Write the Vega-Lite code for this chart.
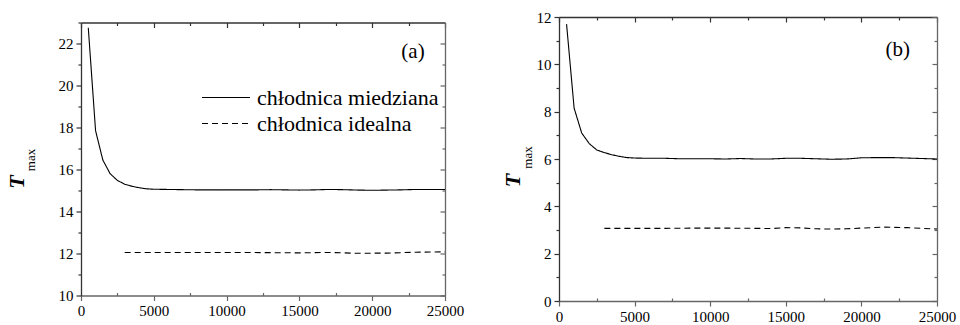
{
  "$schema": "https://vega.github.io/schema/vega-lite/v6.json",
  "background": "white",
  "padding": {"left": 5, "top": 10, "right": 5, "bottom": 3},
  "spacing": 114,
  "bounds": "flush",
  "center": true,
  "config": {
    "view": {"stroke": null},
    "font": "Times New Roman, Liberation Serif, serif",
    "text": {"font": "Times New Roman, Liberation Serif, serif"},
    "legend": {"labelFont": "Times New Roman, Liberation Serif, serif"},
    "axis": {
      "grid": false,
      "labelFont": "Times New Roman, Liberation Serif, serif",
      "labelFontSize": 15,
      "labelColor": "black",
      "labelOverlap": false,
      "labelFlush": false,
      "labelPadding": 3,
      "domainColor": "#333",
      "tickColor": "#333",
      "domainWidth": 1.3,
      "tickWidth": 1.2,
      "titleFont": "Times New Roman, Liberation Serif, serif",
      "titleColor": "black",
      "format": "d"
    }
  },
  "resolve": {"scale": {"strokeDash": "independent"}, "legend": {"strokeDash": "independent"}},
  "datasets": {
    "a": [
      {"x": 500, "y": 22.75, "series": "chłodnica miedziana"},
      {"x": 1000, "y": 17.85, "series": "chłodnica miedziana"},
      {"x": 1500, "y": 16.45, "series": "chłodnica miedziana"},
      {"x": 2000, "y": 15.8, "series": "chłodnica miedziana"},
      {"x": 2500, "y": 15.48, "series": "chłodnica miedziana"},
      {"x": 3000, "y": 15.3, "series": "chłodnica miedziana"},
      {"x": 3500, "y": 15.2, "series": "chłodnica miedziana"},
      {"x": 4000, "y": 15.13, "series": "chłodnica miedziana"},
      {"x": 4500, "y": 15.08, "series": "chłodnica miedziana"},
      {"x": 5000, "y": 15.06, "series": "chłodnica miedziana"},
      {"x": 6000, "y": 15.05, "series": "chłodnica miedziana"},
      {"x": 7000, "y": 15.04, "series": "chłodnica miedziana"},
      {"x": 8000, "y": 15.03, "series": "chłodnica miedziana"},
      {"x": 9000, "y": 15.03, "series": "chłodnica miedziana"},
      {"x": 10000, "y": 15.03, "series": "chłodnica miedziana"},
      {"x": 11000, "y": 15.03, "series": "chłodnica miedziana"},
      {"x": 12000, "y": 15.03, "series": "chłodnica miedziana"},
      {"x": 13000, "y": 15.04, "series": "chłodnica miedziana"},
      {"x": 14000, "y": 15.03, "series": "chłodnica miedziana"},
      {"x": 15000, "y": 15.02, "series": "chłodnica miedziana"},
      {"x": 16000, "y": 15.03, "series": "chłodnica miedziana"},
      {"x": 17000, "y": 15.05, "series": "chłodnica miedziana"},
      {"x": 18000, "y": 15.04, "series": "chłodnica miedziana"},
      {"x": 19000, "y": 15.02, "series": "chłodnica miedziana"},
      {"x": 20000, "y": 15.01, "series": "chłodnica miedziana"},
      {"x": 21000, "y": 15.02, "series": "chłodnica miedziana"},
      {"x": 22000, "y": 15.03, "series": "chłodnica miedziana"},
      {"x": 23000, "y": 15.05, "series": "chłodnica miedziana"},
      {"x": 24000, "y": 15.05, "series": "chłodnica miedziana"},
      {"x": 25000, "y": 15.05, "series": "chłodnica miedziana"},
      {"x": 3000, "y": 12.05, "series": "chłodnica idealna"},
      {"x": 5000, "y": 12.05, "series": "chłodnica idealna"},
      {"x": 7000, "y": 12.05, "series": "chłodnica idealna"},
      {"x": 9000, "y": 12.05, "series": "chłodnica idealna"},
      {"x": 11000, "y": 12.05, "series": "chłodnica idealna"},
      {"x": 13000, "y": 12.04, "series": "chłodnica idealna"},
      {"x": 15000, "y": 12.03, "series": "chłodnica idealna"},
      {"x": 17000, "y": 12.05, "series": "chłodnica idealna"},
      {"x": 19000, "y": 12.01, "series": "chłodnica idealna"},
      {"x": 21000, "y": 12.02, "series": "chłodnica idealna"},
      {"x": 23000, "y": 12.06, "series": "chłodnica idealna"},
      {"x": 25000, "y": 12.08, "series": "chłodnica idealna"}
    ],
    "b": [
      {"x": 500, "y": 11.7, "series": "chłodnica miedziana"},
      {"x": 1000, "y": 8.15, "series": "chłodnica miedziana"},
      {"x": 1500, "y": 7.1, "series": "chłodnica miedziana"},
      {"x": 2000, "y": 6.65, "series": "chłodnica miedziana"},
      {"x": 2500, "y": 6.38, "series": "chłodnica miedziana"},
      {"x": 3000, "y": 6.27, "series": "chłodnica miedziana"},
      {"x": 3500, "y": 6.18, "series": "chłodnica miedziana"},
      {"x": 4000, "y": 6.11, "series": "chłodnica miedziana"},
      {"x": 4500, "y": 6.06, "series": "chłodnica miedziana"},
      {"x": 5000, "y": 6.04, "series": "chłodnica miedziana"},
      {"x": 6000, "y": 6.03, "series": "chłodnica miedziana"},
      {"x": 7000, "y": 6.03, "series": "chłodnica miedziana"},
      {"x": 8000, "y": 6.01, "series": "chłodnica miedziana"},
      {"x": 9000, "y": 6.01, "series": "chłodnica miedziana"},
      {"x": 10000, "y": 6.01, "series": "chłodnica miedziana"},
      {"x": 11000, "y": 6.0, "series": "chłodnica miedziana"},
      {"x": 12000, "y": 6.02, "series": "chłodnica miedziana"},
      {"x": 13000, "y": 6.0, "series": "chłodnica miedziana"},
      {"x": 14000, "y": 6.0, "series": "chłodnica miedziana"},
      {"x": 15000, "y": 6.03, "series": "chłodnica miedziana"},
      {"x": 16000, "y": 6.03, "series": "chłodnica miedziana"},
      {"x": 17000, "y": 6.01, "series": "chłodnica miedziana"},
      {"x": 18000, "y": 5.99, "series": "chłodnica miedziana"},
      {"x": 19000, "y": 6.0, "series": "chłodnica miedziana"},
      {"x": 20000, "y": 6.05, "series": "chłodnica miedziana"},
      {"x": 21000, "y": 6.06, "series": "chłodnica miedziana"},
      {"x": 22000, "y": 6.06, "series": "chłodnica miedziana"},
      {"x": 23000, "y": 6.04, "series": "chłodnica miedziana"},
      {"x": 24000, "y": 6.02, "series": "chłodnica miedziana"},
      {"x": 25000, "y": 6.0, "series": "chłodnica miedziana"},
      {"x": 3000, "y": 3.07, "series": "chłodnica idealna"},
      {"x": 5000, "y": 3.07, "series": "chłodnica idealna"},
      {"x": 7000, "y": 3.07, "series": "chłodnica idealna"},
      {"x": 9000, "y": 3.08, "series": "chłodnica idealna"},
      {"x": 11000, "y": 3.08, "series": "chłodnica idealna"},
      {"x": 13000, "y": 3.07, "series": "chłodnica idealna"},
      {"x": 14000, "y": 3.06, "series": "chłodnica idealna"},
      {"x": 15000, "y": 3.1, "series": "chłodnica idealna"},
      {"x": 16000, "y": 3.09, "series": "chłodnica idealna"},
      {"x": 17000, "y": 3.05, "series": "chłodnica idealna"},
      {"x": 18000, "y": 3.04, "series": "chłodnica idealna"},
      {"x": 19000, "y": 3.05, "series": "chłodnica idealna"},
      {"x": 20000, "y": 3.08, "series": "chłodnica idealna"},
      {"x": 21500, "y": 3.12, "series": "chłodnica idealna"},
      {"x": 23000, "y": 3.1, "series": "chłodnica idealna"},
      {"x": 25000, "y": 3.04, "series": "chłodnica idealna"}
    ]
  },
  "hconcat": [
    {
      "width": 364,
      "height": 273,
      "resolve": {"axis": {"x": "independent", "y": "independent"}},
      "layer": [
        {
          "data": {"name": "a"},
          "mark": {"type": "line", "color": "black", "strokeWidth": 1.1},
          "encoding": {
            "x": {"field": "x", "type": "quantitative", "scale": {"domain": [0, 25000], "nice": false},
              "axis": {"orient": "bottom", "title": null, "format": "d", "values": [0, 2500, 5000, 7500, 10000, 12500, 15000, 17500, 20000, 22500, 25000],
                "labelExpr": "datum.value % 5000 === 0 ? datum.label : ''",
                "tickSize": {"condition": {"test": "datum.value % 5000 === 0", "value": 5}, "value": -3},
                "domainColor": "#666", "tickColor": "#666"}},
            "y": {"field": "y", "type": "quantitative", "scale": {"domain": [10, 23], "nice": false, "zero": false},
              "axis": {"orient": "left", "format": "d", "values": [10, 11, 12, 13, 14, 15, 16, 17, 18, 19, 20, 21, 22, 23],
                "labelExpr": "datum.value % 2 === 0 ? datum.label : ''",
                "tickSize": {"condition": {"test": "datum.value % 2 === 0", "value": 5}, "value": 3},
                "title": "T", "titleFontSize": 22, "titleFontStyle": "italic", "titleFontWeight": "bold",
                "titleAngle": 270, "titleAlign": "center", "titleBaseline": "middle", "titleX": -65, "titleY": 159}},
            "strokeDash": {"field": "series", "type": "nominal",
              "scale": {"domain": ["chłodnica miedziana", "chłodnica idealna"], "range": [[1, 0], [6, 4]]},
              "legend": {"orient": "none", "legendX": 120, "legendY": 62, "title": null,
                "symbolType": "stroke", "symbolSize": 2300, "symbolStrokeWidth": 1.2, "symbolStrokeColor": "black",
                "labelFontSize": 22, "labelColor": "black", "rowPadding": 0, "clipHeight": 26, "labelOffset": 6, "labelLimit": 400}}
          }
        },
        {
          "data": {"name": "a"},
          "mark": {"type": "point", "opacity": 0},
          "encoding": {
            "x": {"field": "x", "type": "quantitative",
              "axis": {"orient": "top", "title": null, "labels": false, "values": [0, 2500, 5000, 7500, 10000, 12500, 15000, 17500, 20000, 22500, 25000],
                "tickSize": {"condition": {"test": "datum.value % 5000 === 0", "value": -5}, "value": -3}}},
            "y": {"field": "y", "type": "quantitative",
              "axis": {"orient": "right", "labels": false, "values": [10, 11, 12, 13, 14, 15, 16, 17, 18, 19, 20, 21, 22, 23],
                "tickSize": {"condition": {"test": "datum.value % 2 === 0", "value": -5}, "value": -3},
                "domainColor": "#666", "tickColor": "#666",
                "title": "max", "titleFontSize": 13, "titleFontWeight": "normal", "titleAngle": 270, "titleAlign": "center", "titleBaseline": "middle",
                "titleX": -415, "titleY": 137}}
          }
        },
        {
          "data": {"values": [{"x": 22800, "y": 21.6, "label": "(a)"}]},
          "mark": {"type": "text", "fontSize": 21, "color": "black"},
          "encoding": {
            "x": {"field": "x", "type": "quantitative", "axis": null},
            "y": {"field": "y", "type": "quantitative", "axis": null},
            "text": {"field": "label"}
          }
        }
      ]
    },
    {
      "width": 378,
      "height": 284,
      "resolve": {"axis": {"x": "independent", "y": "independent"}},
      "layer": [
        {
          "data": {"name": "b"},
          "mark": {"type": "line", "color": "black", "strokeWidth": 1.1},
          "encoding": {
            "x": {"field": "x", "type": "quantitative", "scale": {"domain": [0, 25000], "nice": false},
              "axis": {"orient": "bottom", "title": null, "format": "d", "values": [0, 2500, 5000, 7500, 10000, 12500, 15000, 17500, 20000, 22500, 25000],
                "labelExpr": "datum.value % 5000 === 0 ? datum.label : ''",
                "tickSize": {"condition": {"test": "datum.value % 5000 === 0", "value": 5}, "value": -3},
                "domainColor": "#666", "tickColor": "#666"}},
            "y": {"field": "y", "type": "quantitative", "scale": {"domain": [0, 12], "nice": false},
              "axis": {"orient": "left", "format": "d", "values": [0, 1, 2, 3, 4, 5, 6, 7, 8, 9, 10, 11, 12],
                "labelExpr": "datum.value % 2 === 0 ? datum.label : ''",
                "tickSize": {"condition": {"test": "datum.value % 2 === 0", "value": 5}, "value": 3},
                "title": "T", "titleFontSize": 22, "titleFontStyle": "italic", "titleFontWeight": "bold",
                "titleAngle": 270, "titleAlign": "center", "titleBaseline": "middle", "titleX": -47, "titleY": 163}},
            "strokeDash": {"field": "series", "type": "nominal",
              "scale": {"domain": ["chłodnica miedziana", "chłodnica idealna"], "range": [[1, 0], [6, 4]]},
              "legend": null}
          }
        },
        {
          "data": {"name": "b"},
          "mark": {"type": "point", "opacity": 0},
          "encoding": {
            "x": {"field": "x", "type": "quantitative",
              "axis": {"orient": "top", "title": null, "labels": false, "values": [0, 2500, 5000, 7500, 10000, 12500, 15000, 17500, 20000, 22500, 25000],
                "tickSize": {"condition": {"test": "datum.value % 5000 === 0", "value": -5}, "value": -3}}},
            "y": {"field": "y", "type": "quantitative",
              "axis": {"orient": "right", "labels": false, "values": [0, 1, 2, 3, 4, 5, 6, 7, 8, 9, 10, 11, 12],
                "tickSize": {"condition": {"test": "datum.value % 2 === 0", "value": -5}, "value": -3},
                "domainColor": "#666", "tickColor": "#666",
                "title": "max", "titleFontSize": 13, "titleFontWeight": "normal", "titleAngle": 270, "titleAlign": "center", "titleBaseline": "middle",
                "titleX": -410, "titleY": 140}}
          }
        },
        {
          "data": {"values": [{"x": 22400, "y": 10.6, "label": "(b)"}]},
          "mark": {"type": "text", "fontSize": 21, "color": "black"},
          "encoding": {
            "x": {"field": "x", "type": "quantitative", "axis": null},
            "y": {"field": "y", "type": "quantitative", "axis": null},
            "text": {"field": "label"}
          }
        }
      ]
    }
  ]
}
